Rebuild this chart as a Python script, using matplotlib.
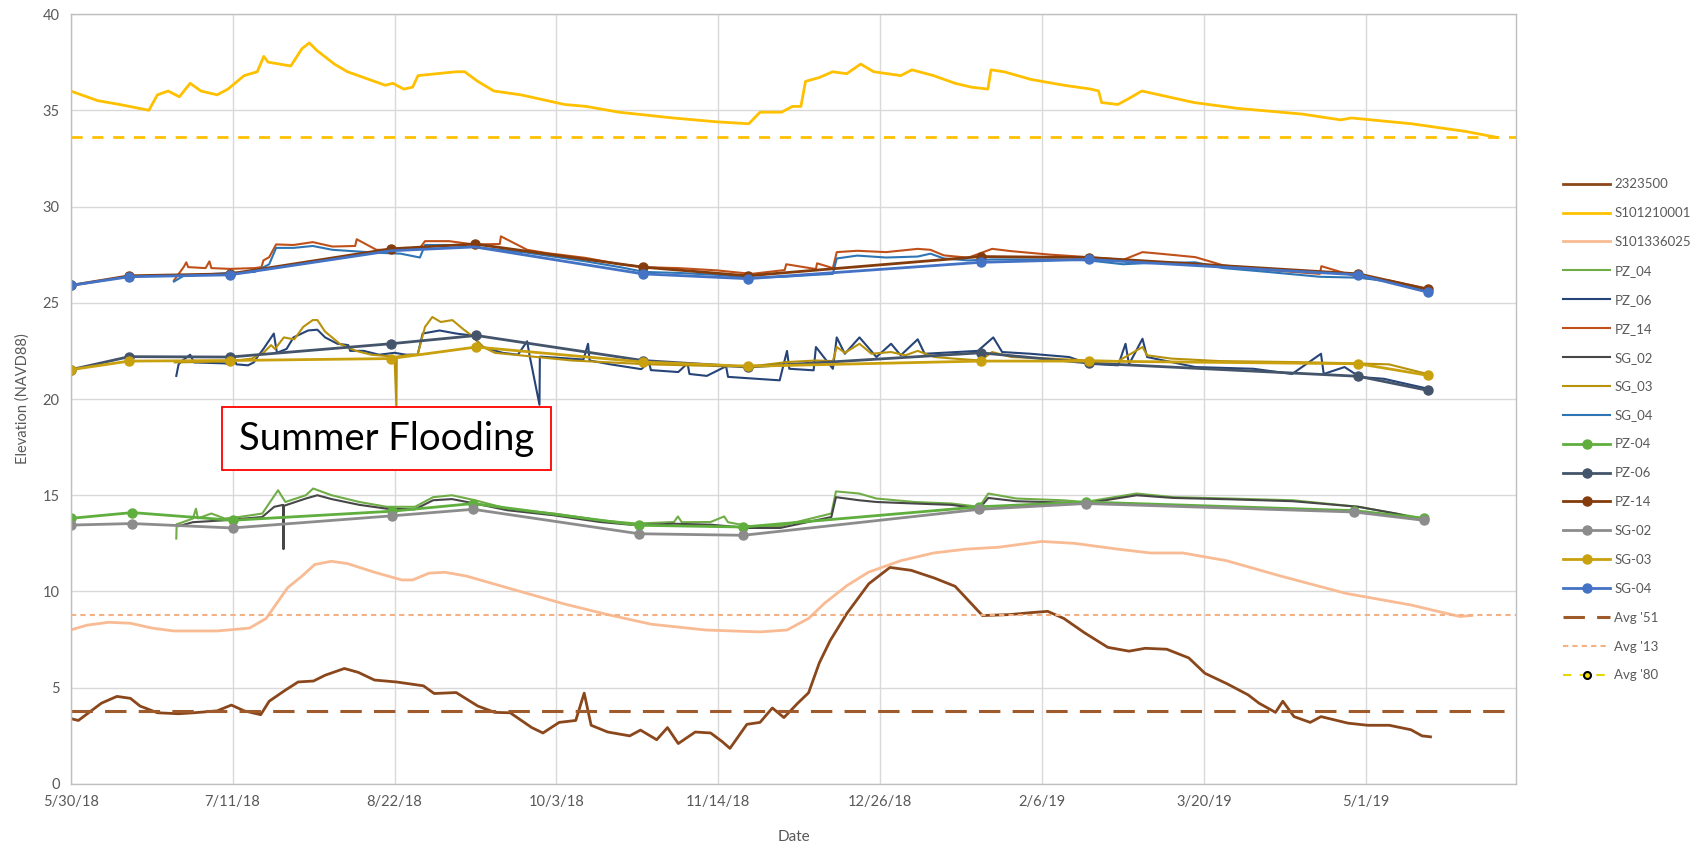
import matplotlib
matplotlib.use('Agg')
import matplotlib.pyplot as plt
from matplotlib.lines import Line2D
from matplotlib.patches import Rectangle
import pandas as pd

plt.rcParams['font.family'] = ['Lato', 'DejaVu Sans']

START = pd.Timestamp('2018-05-30')

# USGS gage 2323500, days since 5/30/18
g2323500_day = [0, 2, 4, 8, 12, 15.5, 18, 22.5, 28, 32, 38, 41.7, 45, 49.3, 51.5, 55.5, 59, 63, 66,
                71, 74.6, 78.8, 84.5, 91.5, 94.3, 100, 105.6, 110, 114, 119.6, 122.5, 126.7, 131,
                133.2, 135, 139.3, 145, 147.8, 152, 154.8, 157.6, 162, 166, 169, 171, 175.4, 178.8,
                182, 185, 188.6, 191.4, 194.2, 197, 201.3, 207, 212.5, 218, 224, 229.4, 233.6, 236.5,
                243.5, 249, 253.4, 257.6, 263, 269, 274.5, 278.7, 284.3, 290, 294.2, 300, 305.4,
                308.2, 312.5, 314.4, 317.3, 321.5, 324.3, 331.3, 336.4, 342, 347.6, 350.5, 352.7]
g2323500_ft = [3.4, 3.3, 3.6, 4.2, 4.55, 4.45, 4.05, 3.7, 3.65, 3.7, 3.8, 4.1, 3.8, 3.6, 4.3, 4.85,
               5.3, 5.35, 5.65, 6.0, 5.8, 5.4, 5.3, 5.1, 4.7, 4.75, 4.05, 3.72, 3.7, 2.93, 2.65,
               3.2, 3.3, 4.72, 3.05, 2.7, 2.5, 2.8, 2.3, 2.93, 2.1, 2.7, 2.65, 2.2, 1.85, 3.1, 3.2,
               3.95, 3.45, 4.2, 4.74, 6.3, 7.45, 8.85, 10.4, 11.25, 11.1, 10.7, 10.27, 9.37, 8.75,
               8.8, 8.9, 8.97, 8.6, 7.85, 7.1, 6.9, 7.05, 7.0, 6.55, 5.75, 5.2, 4.63, 4.2, 3.72,
               4.3, 3.5, 3.2, 3.5, 3.16, 3.05, 3.05, 2.82, 2.5, 2.45]

s101210001_day = [0, 7, 12.7, 20.3, 22.5, 25.3, 28.2, 31, 33.8, 38, 40.8, 45, 48.4, 50.1, 51.2, 57.1,
                  60, 61.9, 63.9, 68.4, 71.8, 77.4, 81.6, 83.6, 86.4, 88.7, 90.1, 99.9, 102.2, 105.6,
                  109.8, 116.8, 128.1, 133.7, 142.2, 156.2, 167.5, 175.9, 178.8, 184.4, 187.2, 189.4,
                  190.6, 194.2, 197.6, 201.3, 204.9, 208.3, 215.3, 218.2, 223.8, 229.4, 233.6, 237.9,
                  238.7, 242.1, 249.1, 257.6, 264.6, 266.6, 267.4, 271.6, 274.4, 277.8, 280.1, 291.4,
                  302.6, 319.5, 329.4, 332.2, 347.7, 361.8, 369.7]
s101210001_ft = [36.0, 35.5, 35.3, 35.0, 35.8, 36.0, 35.7, 36.4, 36.0, 35.8, 36.1, 36.8, 37.0, 37.8,
                 37.5, 37.3, 38.2, 38.5, 38.1, 37.4, 37.0, 36.6, 36.3, 36.4, 36.1, 36.2, 36.8, 37.0,
                 37.0, 36.5, 36.0, 35.8, 35.3, 35.2, 34.9, 34.6, 34.4, 34.3, 34.9, 34.9, 35.2, 35.2,
                 36.5, 36.7, 37.0, 36.9, 37.4, 37.0, 36.8, 37.1, 36.8, 36.4, 36.2, 36.1, 37.1, 37.0,
                 36.6, 36.3, 36.1, 36.0, 35.4, 35.3, 35.6, 36.0, 35.9, 35.4, 35.1, 34.8, 34.5, 34.6,
                 34.3, 33.9, 33.6]

s101336025_day = [0, 4.2, 9.9, 15.5, 21.1, 26.7, 38, 46.4, 50.7, 53.5, 56.3, 60, 63.3, 67.6, 71.8,
                  78.8, 85.9, 88.7, 92.9, 97.1, 102.7, 114, 128.1, 139.3, 150.6, 164.7, 178.8, 185.8,
                  191.4, 195.6, 201.3, 206.9, 215.3, 223.8, 232.2, 240.7, 251.9, 260.4, 271.6, 280.1,
                  288.5, 299.8, 313.9, 330.8, 347.6, 360.3, 363.4]
s101336025_ft = [8.0, 8.25, 8.4, 8.35, 8.1, 7.95, 7.95, 8.1, 8.6, 9.4, 10.2, 10.8, 11.4, 11.57, 11.45,
                 11.0, 10.6, 10.6, 10.95, 11.0, 10.8, 10.15, 9.35, 8.8, 8.3, 8.0, 7.9, 8.0, 8.6, 9.4,
                 10.3, 11.0, 11.6, 12.0, 12.2, 12.3, 12.6, 12.5, 12.2, 12.0, 12.0, 11.6, 10.8, 9.9,
                 9.3, 8.7, 8.75]

# transducer logs
pz14_log_day = [26.8, 29.3, 30, 30.5, 35, 36, 36.5, 41.3, 47.7, 49.5, 50, 51.5, 53.3, 57.8, 62.8,
                67.9, 73.8, 74.2, 79.3, 85.6, 90.6, 91.9, 98.2, 104.5, 111.3, 111.6, 118.4, 123.5,
                133.6, 142.5, 148.8, 157.6, 167.7, 176.6, 185.2, 185.6, 193.3, 193.6, 197.7, 198.7,
                204, 211.5, 219.7, 223, 226.5, 232.8, 239, 244, 254, 264, 273, 278, 283, 291.7, 299,
                310.5, 324, 324.4, 334.4, 341.9, 351.9]
pz14_log_ft = [26.16, 26.85, 27.1, 26.85, 26.8, 27.15, 26.8, 26.76, 26.8, 26.85, 27.2, 27.37, 28.03,
               28.0, 28.15, 27.92, 27.95, 28.3, 27.75, 27.75, 27.85, 28.2, 28.2, 28.03, 28.05, 28.45,
               27.75, 27.58, 27.33, 27.0, 26.85, 26.8, 26.68, 26.5, 26.7, 27.0, 26.75, 27.05, 26.8,
               27.63, 27.7, 27.63, 27.8, 27.75, 27.46, 27.34, 27.8, 27.68, 27.5, 27.37, 27.23, 27.63,
               27.54, 27.37, 26.94, 26.7, 26.5, 26.9, 26.3, 26.16, 25.73]

sg04_log_day = [26.8, 29.3, 41.3, 47.7, 51.5, 53.3, 57.8, 62.8, 67.9, 79.3, 85.6, 90.6, 91.9, 98.2,
                104.5, 118.4, 123.5, 133.6, 142.5, 148.8, 157.6, 167.7, 176.6, 185, 193, 197.7,
                198.7, 204, 211.5, 219.7, 223, 226.5, 232.8, 239, 254, 264, 273, 278, 291.7, 299,
                310.5, 324, 334.4, 341.9, 351.9]
sg04_log_ft = [26.1, 26.4, 26.55, 26.6, 27.0, 27.85, 27.85, 27.95, 27.75, 27.6, 27.55, 27.35, 28.0,
               28.0, 27.9, 27.6, 27.45, 27.15, 26.85, 26.6, 26.55, 26.45, 26.3, 26.35, 26.45, 26.5,
               27.3, 27.45, 27.35, 27.4, 27.55, 27.3, 27.2, 27.25, 27.25, 27.2, 27.0, 27.05, 27.1,
               26.8, 26.6, 26.35, 26.3, 26.1, 25.6]

pz06_log_day = [27.4, 28, 29, 31, 32, 40, 41.3, 42, 43, 46, 47.5, 48.5, 50, 52.7, 53.5, 56, 57.8,
                61.6, 64, 66, 69.2, 72, 72.5, 76, 80, 84, 87, 90, 91.3, 95.7, 100, 104, 107, 112,
                116, 118.4, 119, 121.6, 121.7, 122, 133, 134.2, 134.6, 140, 148, 150, 150.5, 157.6,
                160, 160.5, 165, 170, 170.5, 177.9, 183.9, 185.8, 186.4, 192.7, 193.3, 197.7, 198.7,
                200.8, 204.6, 209, 212.8, 215.3, 219.7, 221.5, 235.3, 239.3, 241.6, 249, 259, 264,
                271.7, 273.6, 274.5, 278, 279.2, 291.7, 306.8, 316.8, 324.3, 325, 330.4, 334.4,
                340.6, 351.9]
pz06_log_ft = [21.2, 21.8, 22.0, 22.3, 21.9, 21.85, 21.8, 22.3, 21.8, 21.75, 21.9, 22.2, 22.6, 23.4,
               22.4, 22.6, 23.2, 23.56, 23.6, 23.2, 22.87, 22.8, 22.5, 22.5, 22.3, 22.4, 22.3, 22.3,
               23.4, 23.56, 23.4, 23.3, 22.7, 22.4, 22.3, 23.0, 22.3, 19.7, 22.2, 22.2, 22.05, 22.87,
               22.0, 21.8, 21.55, 21.9, 21.5, 21.4, 21.85, 21.3, 21.2, 21.7, 21.15, 21.05, 20.97,
               22.5, 21.57, 21.49, 22.7, 21.57, 23.2, 22.35, 23.2, 22.18, 22.87, 22.27, 23.1, 22.35,
               22.5, 23.2, 22.44, 22.35, 22.18, 21.83, 21.75, 22.87, 21.8, 23.13, 22.18, 21.66,
               21.57, 21.3, 22.35, 21.3, 21.66, 21.14, 21.05, 20.54]

sg03_log_day = [27, 41, 47, 50, 52, 53, 55.3, 58, 60.3, 62.8, 64, 66, 69.8, 74, 78, 84, 84.5, 84.6,
                88, 90, 91.9, 93.8, 96, 99, 102, 104, 107, 110, 115, 120, 130, 140, 150, 160, 170,
                178.9, 185.8, 193.3, 197.7, 198.7, 200.8, 204.6, 207.7, 212.8, 216.5, 219.7, 224,
                229, 236, 239, 244, 254, 264, 271.7, 278, 279.2, 285.5, 298, 316.8, 329.4, 341.9,
                351.9]
sg03_log_ft = [21.9, 21.95, 22.1, 22.4, 22.8, 22.6, 23.2, 23.1, 23.74, 24.1, 24.1, 23.5, 22.87, 22.5,
               22.3, 22.2, 19.6, 22.2, 22.3, 22.3, 23.74, 24.26, 24.0, 24.1, 23.6, 23.3, 22.7, 22.4,
               22.3, 22.2, 22.0, 21.9, 21.8, 21.75, 21.7, 21.75, 21.92, 22.0, 21.97, 22.7, 22.4,
               22.87, 22.35, 22.44, 22.27, 22.5, 22.18, 22.1, 22.0, 22.44, 22.18, 22.1, 22.0, 21.97,
               22.7, 22.27, 22.1, 21.97, 21.92, 21.87, 21.8, 21.3]

pz04_log_day = [27.4, 27.5, 28.1, 31.7, 32.5, 33, 36.5, 40, 43.7, 49.7, 53.8, 55.7, 61, 62.9, 67.7,
                74.9, 82, 89.3, 94, 98.9, 104.9, 113.3, 125.3, 137.3, 146.9, 156.5, 157.5, 158.5,
                166, 169.5, 170.5, 175.7, 184, 197.3, 198.5, 204.5, 209, 218.9, 228.5, 235.7, 238,
                245.3, 257.3, 263, 276.5, 286, 300.5, 317, 334, 343.7, 350.9]
pz04_log_ft = [12.75, 13.5, 13.53, 13.79, 14.3, 13.8, 14.05, 13.79, 13.87, 14.05, 15.26, 14.65, 15.0,
               15.35, 15.0, 14.65, 14.4, 14.4, 14.9, 15.0, 14.74, 14.3, 14.05, 13.7, 13.53, 13.61,
               13.9, 13.6, 13.61, 13.9, 13.6, 13.4, 13.4, 14.05, 15.2, 15.09, 14.83, 14.65, 14.57,
               14.4, 15.09, 14.83, 14.74, 14.65, 15.09, 14.9, 14.83, 14.74, 14.4, 14.05, 13.8]

sg02_log_day = [28.1, 31.7, 40, 49.7, 52.8, 55.1, 55.2, 55.3, 61, 64, 67.7, 74.9, 82, 89.3, 94, 98.9,
                104.9, 113.3, 125.3, 137.3, 146.9, 156.5, 166, 175.7, 184, 197.3, 198.5, 204.5, 209,
                218.9, 228.5, 235.7, 238, 245.3, 257.3, 263, 276.5, 286, 300.5, 317, 334, 343.7,
                350.9]
sg02_log_ft = [13.4, 13.6, 13.7, 13.87, 14.4, 14.5, 12.2, 14.45, 14.83, 15.0, 14.8, 14.5, 14.3, 14.27,
               14.74, 14.8, 14.57, 14.22, 13.96, 13.61, 13.44, 13.52, 13.47, 13.3, 13.3, 13.87, 14.9,
               14.74, 14.65, 14.57, 14.5, 14.3, 14.86, 14.69, 14.62, 14.57, 15.0, 14.86, 14.79,
               14.69, 14.4, 14.05, 13.7]

# manual (tape-down) readings
pz04_man_day = [0, 16, 42, 83.3, 104.4, 147.4, 174.5, 235.7, 263.3, 332.9, 350.9]
pz04_man_ft = [13.8, 14.1, 13.7, 14.17, 14.57, 13.44, 13.35, 14.4, 14.65, 14.2, 13.8]
pz06_man_day = [0, 15.2, 41.3, 83, 105.2, 148.4, 175.6, 236, 264, 334, 352]
pz06_man_ft = [21.52, 22.2, 22.18, 22.87, 23.3, 22.0, 21.66, 22.4, 21.87, 21.18, 20.45]
pz14_man_day = [0, 15.2, 41.3, 83, 104.8, 148.4, 175.6, 236, 264, 334, 352]
pz14_man_ft = [25.9, 26.4, 26.5, 27.8, 28.05, 26.85, 26.4, 27.4, 27.35, 26.5, 25.7]
sg02_man_day = [0, 16, 42, 83.3, 104.4, 147.4, 174.5, 235.7, 263.3, 332.9, 350.9]
sg02_man_ft = [13.45, 13.53, 13.3, 13.93, 14.27, 13.0, 12.92, 14.27, 14.57, 14.13, 13.7]
sg03_man_day = [0, 15.2, 41.3, 83, 105.2, 148.4, 175.6, 236, 264, 334, 352]
sg03_man_ft = [21.52, 21.97, 22.0, 22.1, 22.7, 21.92, 21.7, 21.97, 21.97, 21.83, 21.23]
sg04_man_day = [0, 15.2, 41.3, 83, 104.8, 148.4, 175.6, 236, 264, 334, 352]
sg04_man_ft = [25.9, 26.35, 26.45, 27.7, 27.9, 26.5, 26.25, 27.1, 27.25, 26.45, 25.55]

avg_51 = 3.8
avg_13 = 8.8
avg_80 = 33.6


def to_dates(days):
    return START + pd.to_timedelta(days, unit='D')


fig = plt.figure(figsize=(17.02, 8.44), dpi=100)
ax = fig.add_axes([0.0415, 0.0711, 0.8495, 0.9123])

lines = []
lines += ax.plot(to_dates(g2323500_day), g2323500_ft, color='#8B471C', lw=2.0, label='2323500')
lines += ax.plot(to_dates(s101210001_day), s101210001_ft, color='#FFC000', lw=2.0, label='S101210001')
lines += ax.plot(to_dates(s101336025_day), s101336025_ft, color='#F8BB94', lw=2.0, label='S101336025')
lines += ax.plot(to_dates(pz04_log_day), pz04_log_ft, color='#70AD47', lw=1.5, label='PZ_04')
lines += ax.plot(to_dates(pz06_log_day), pz06_log_ft, color='#264478', lw=1.5, label='PZ_06')
lines += ax.plot(to_dates(pz14_log_day), pz14_log_ft, color='#C0501A', lw=1.5, label='PZ_14')
lines += ax.plot(to_dates(sg02_log_day), sg02_log_ft, color='#474747', lw=1.5, label='SG_02')
lines += ax.plot(to_dates(sg03_log_day), sg03_log_ft, color='#B8920A', lw=1.5, label='SG_03')
lines += ax.plot(to_dates(sg04_log_day), sg04_log_ft, color='#2E75B6', lw=1.5, label='SG_04')

manual = [
    (pz04_man_day, pz04_man_ft, '#5FAE3E', 'PZ-04', None),
    (pz06_man_day, pz06_man_ft, '#44546A', 'PZ-06', None),
    (pz14_man_day, pz14_man_ft, '#843C0C', 'PZ-14', None),
    (sg02_man_day, sg02_man_ft, '#8C8C8C', 'SG-02', None),
    (sg03_man_day, sg03_man_ft, '#C9A00E', 'SG-03', None),
    # SG-04 dots in late summer sit under the PZ-14 dots
    (sg04_man_day, sg04_man_ft, '#4472C4', 'SG-04', [0, 1, 2, 5, 6, 7, 8, 9, 10]),
]
for d, v, c, name, every in manual:
    lines += ax.plot(to_dates(d), v, color=c, lw=2.0, marker='o', ms=6.5, markevery=every,
                     label=name)

lines.append(ax.axhline(avg_51, color='#9E5A2A', lw=2.2, ls=(0, (7, 4)), label="Avg '51"))
lines.append(ax.axhline(avg_13, color='#F4B183', lw=1.5, ls=(0, (2.5, 2)), label="Avg '13"))
ax.axhline(avg_80, color='#FFC000', lw=2.0, ls=(0, (4, 3.5)))
lines.append(Line2D([], [], color='#E6D800', lw=1.5, ls=(0, (4, 4)), marker='o', ms=5,
                    mfc='#F2E200', mec='black', mew=1.5, label="Avg '80"))

ax.set_xlim(START, START + pd.Timedelta(days=375))
ax.set_ylim(0, 40)
ticks = pd.date_range(START, periods=9, freq='42D')
ax.set_xticks(ticks)
ax.set_xticklabels([f'{t.month}/{t.day}/{t:%y}' for t in ticks])
ax.set_yticks(range(0, 41, 5))

ax.grid(True, color='#D9D9D9', lw=1.0)
ax.set_axisbelow(True)
for sp in ax.spines.values():
    sp.set_color('#BFBFBF')
    sp.set_linewidth(1.0)
ax.tick_params(length=0, colors='#595959', labelsize=10.5, pad=8)

ax.set_xlabel('Date', color='#595959', fontsize=11, labelpad=15)
ax.set_ylabel('Elevation (NAVD88)', color='#595959', fontsize=10.5, labelpad=9)

# callout box for the summer high-water period
ax.add_patch(Rectangle((0.1047, 0.4078), 0.2275, 0.0818, transform=ax.transAxes,
                       fc='white', ec='#FF0000', lw=1.3, zorder=5))
ax.text(0.2185, 0.4487, 'Summer Flooding', transform=ax.transAxes, fontsize=27.5,
        ha='center', va='center', color='black', zorder=6)

fig.legend(handles=lines, loc='upper left', bbox_to_anchor=(0.9155, 0.795), frameon=False,
           fontsize=9.5, labelcolor='#595959', handlelength=3.5, handletextpad=0.35,
           labelspacing=1.28, borderaxespad=0)

fig.savefig('out.png', dpi=100)
